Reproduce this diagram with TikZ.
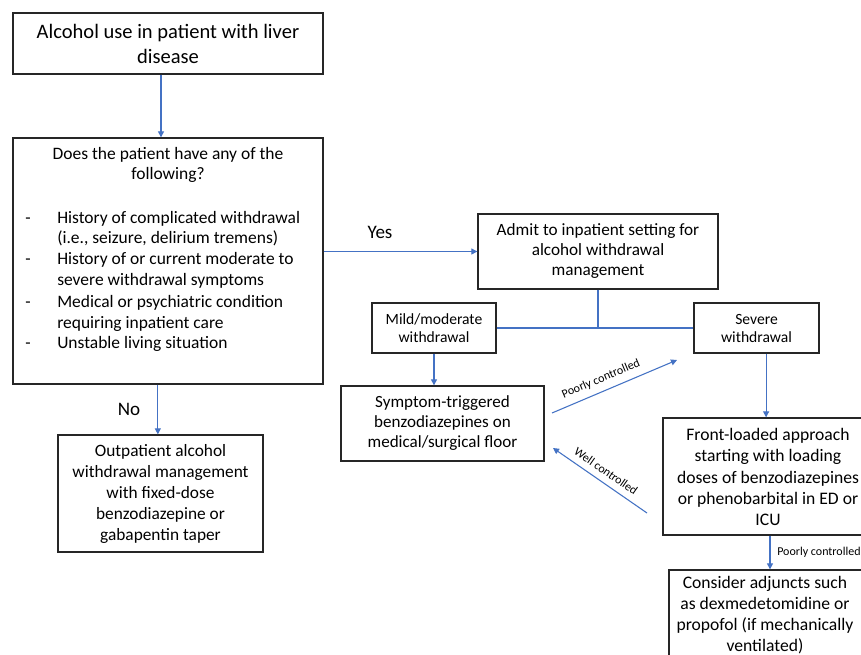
\documentclass[tikz,border=0pt]{standalone}
\usepackage{fontspec}
\setmainfont{Carlito}
\usetikzlibrary{arrows.meta,fit}
\definecolor{lnblue}{HTML}{4472C4}
\definecolor{bxline}{HTML}{262626}
\newcommand\myfs[2]{\fontsize{#1pt}{#2pt}\selectfont}
\begin{document}
\begin{tikzpicture}[x=0.75pt,y=-0.75pt,
 box/.style={draw=bxline,line width=1pt,inner sep=0pt,rectangle},
 btxt/.style={inner sep=0pt,align=center},
 conn/.style={draw=lnblue,line width=0.8pt},
 arr/.style={conn,-{Triangle[length=4.5pt,width=4.5pt]}},
 txt/.style={inner sep=0pt,anchor=base},
 lst/.style={inner sep=0pt,anchor=base west,font=\myfs{13.1}{15.75}},
 lbl/.style={inner sep=0pt,font=\myfs{9}{11}}]
\useasboundingbox (0,0) rectangle (861,654);
\clip (0,0) rectangle (861,654);
\fill[white] (0,0) rectangle (861,654);

% top box
\node[box, fit={(13,13)(323,74)}] (b1) {};
\node[btxt, font=\myfs{15.4}{18.75}] (b1t) at (168,44) {Alcohol use in patient with liver\\disease};

% question box
\node[box, fit={(13,138)(323,384)}] (b2) {};
\node[txt, font=\myfs{13.1}{15.75}] (h1) at (168,159) {Does the patient have any of the};
\node[txt, font=\myfs{13.1}{15.75}] (h2) at (168,179) {following?};
\node[lst] (d1) at (25,223) {-};
\node[lst] (d2) at (25,264) {-};
\node[lst] (d3) at (25,307) {-};
\node[lst] (d4) at (25,348) {-};
\node[lst] (l1) at (57,223) {History of complicated withdrawal};
\node[lst] (l2) at (57,243) {(i.e., seizure, delirium tremens)};
\node[lst] (l3) at (57,264) {History of or current moderate to};
\node[lst] (l4) at (57,285) {severe withdrawal symptoms};
\node[lst] (l5) at (57,307) {Medical or psychiatric condition};
\node[lst] (l6) at (57,328) {requiring inpatient care};
\node[lst] (l7) at (57,348) {Unstable living situation};

\draw[arr] ([xshift=-5.25pt]b1.south) -- ([xshift=-5.25pt]b2.north);

% admit
\node[box, fit={(478,214)(718,289)}] (adm) {};
\node[btxt, font=\myfs{12.9}{15}] (admt) at (adm.center) {Admit to inpatient setting for\\alcohol withdrawal\\management};
\draw[arr] (b2.east |- adm.west) -- (adm.west);
\node[inner sep=0pt, font=\myfs{14.3}{17}] (yes) at (380,232) {Yes};

% mild / severe
\node[box, fit={(372,303)(496,353)}] (mild) {};
\node[btxt, font=\myfs{11.7}{13.5}] (mildt) at (mild.center) {Mild/moderate\\withdrawal};
\node[box, fit={(694,303)(819,353)}] (sev) {};
\node[btxt, font=\myfs{11.7}{13.5}] (sevt) at (sev.center) {Severe\\withdrawal};
\draw[conn] (adm.south) -- (adm.south |- mild.east);
\draw[conn] (mild.east) -- (sev.west);

% symptom-triggered
\node[box, fit={(341,386)(544,461)}] (sym) {};
\node[btxt, font=\myfs{12.8}{15}] (symt) at (sym.center) {Symptom-triggered\\benzodiazepines on\\medical/surgical floor};
\draw[arr] (mild.south) -- (mild.south |- sym.north);

% outpatient
\node[box, fit={(58,435)(263,552)}] (out) {};
\node[btxt, font=\myfs{13}{15.75}] (outt) at (out.center) {Outpatient alcohol\\withdrawal management\\with fixed-dose\\benzodiazepine or\\gabapentin taper};
\draw[arr] ([xshift=-2pt]out.north |- b2.south) -- ([xshift=-2pt]out.north);
\node[inner sep=0pt, font=\myfs{14.3}{17}] (no) at (129,409) {No};

% front-loaded
\node[box, fit={(663,418)(873,535)}] (front) {};
\node[btxt, font=\myfs{13.2}{16}] (frontt) at (768,477) {Front-loaded approach\\starting with loading\\doses of benzodiazepines\\or phenobarbital in ED or\\ICU};
\draw[arr] ([xshift=7.2pt]sev.south) -- ([xshift=7.2pt]sev.south |- front.north);

% consider
\node[box, fit={(669,570)(866,672)}] (cons) {};
\node[btxt, font=\myfs{13.2}{15.75}] (constxt) at (765,615) {Consider adjuncts such\\as dexmedetomidine or\\propofol (if mechanically\\ventilated)};
\draw[arr] ([xshift=1.5pt]front.south) -- ([xshift=1.5pt]front.south |- cons.north);
\node[lbl, anchor=west] (pc2) at (777,552) {Poorly controlled};

% diagonal arrows
\coordinate (p1) at (552,413);
\coordinate (p2) at (677,360);
\draw[arr] (p1) -- (p2);
\node[lbl, rotate=23] (pc1) at (601,379) {Poorly controlled};
\coordinate (w1) at (647,513);
\coordinate (w2) at (553,448);
\draw[arr] (w1) -- (w2);
\node[lbl, rotate=-35] (wc) at (606,471) {Well controlled};
\end{tikzpicture}
\end{document}
